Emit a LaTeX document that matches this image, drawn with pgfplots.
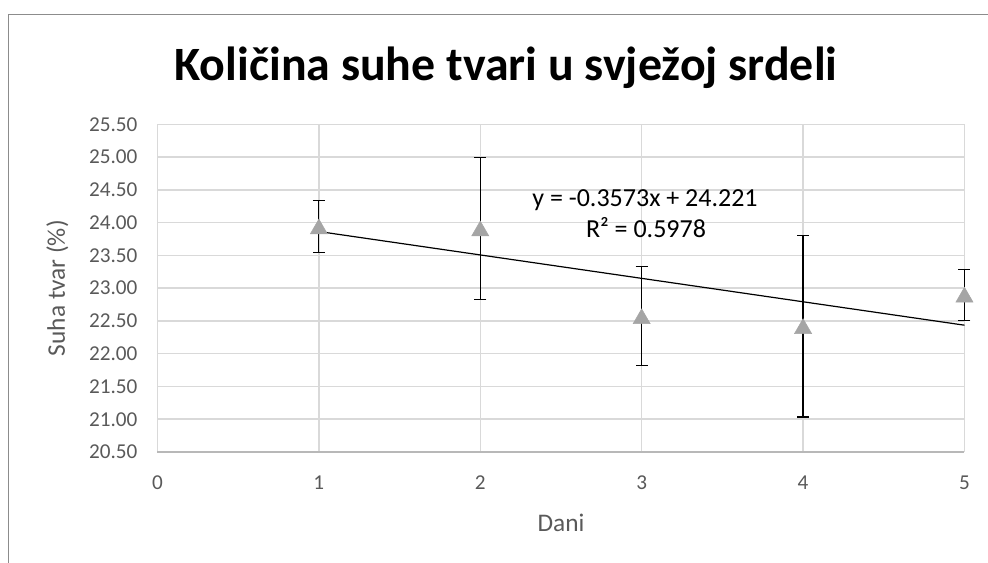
\documentclass[border=0pt]{standalone}
\usepackage{pgfplots}
\pgfplotsset{compat=1.18}
\usepackage{fontspec}
\setmainfont{Carlito}
\definecolor{gridgray}{HTML}{D9D9D9}
\definecolor{txtgray}{HTML}{595959}
\definecolor{framegray}{HTML}{8C8C8C}
\definecolor{markgray}{HTML}{A5A5A5}
\begin{document}
\begin{tikzpicture}
\useasboundingbox (0,0) rectangle (741pt,422.25pt);
\draw[framegray, line width=1.2pt] (6.4pt,0) -- (6.4pt,411.4pt) -- (741pt,411.4pt);
\begin{axis}[
  at={(118.1pt,83.25pt)}, anchor=south west,
  scale only axis, width=605.25pt, height=245.8pt,
  xmin=0, xmax=5, ymin=20.5, ymax=25.5,
  xtick={0,1,2,3,4,5}, ytick={20.5,21,21.5,22,22.5,23,23.5,24,24.5,25,25.5},
  grid=major, grid style={gridgray, line width=1.1pt},
  axis x line*=bottom, axis y line*=left,
  x axis line style={draw=gridgray!85!black, line width=1.3pt},
  y axis line style={draw=none},
  major tick length=0pt, tick style={draw=none},
  /pgf/number format/assume math mode=true,
  yticklabel style={font=\fontsize{15.9}{18}\selectfont, text=txtgray, anchor=east, inner sep=0pt, xshift=-14.8pt,
    /pgf/number format/fixed, /pgf/number format/fixed zerofill, /pgf/number format/precision=2},
  xticklabel style={font=\fontsize{15.9}{18}\selectfont, text=txtgray, anchor=base, inner sep=0pt, yshift=-28.3pt},
  xlabel={Dani}, ylabel={Suha tvar (\%)},
  xlabel style={font=\fontsize{19}{21}\selectfont, text=txtgray, anchor=base, inner sep=0pt, at={(axis description cs:0.5,0)}, yshift=-59.3pt},
  ylabel style={font=\fontsize{19}{21}\selectfont, text=txtgray, anchor=base, inner sep=0pt, at={(axis description cs:-0.1147,0.5)}},
  clip=false,
]
\addplot[black, line width=0.9pt, forget plot] coordinates {(1,23.8637) (5,22.4345)};
\addplot[only marks, mark=triangle*, mark size=7.4pt, mark options={fill=markgray, draw=markgray, yshift=-1.85pt},
  error bars/.cd, y dir=both, y explicit, error mark options={black, rotate=90, mark size=4.5pt, line width=0.9pt},
  error bar style={black, line width=0.9pt}]
  coordinates {
   (1,23.94) +- (0,0.40)
   (2,23.91) +- (0,1.08)
   (3,22.57) +- (0,0.755)
   (4,22.42) +- (0,1.385)
   (5,22.90) +- (0,0.39)
  };
\end{axis}
\node[anchor=base, inner sep=0pt, font=\fontsize{35.9}{40}\selectfont\bfseries] at (379.5pt,361.8pt) {Količina suhe tvari u svježoj srdeli};
\node[anchor=base, inner sep=0pt, font=\fontsize{19.5}{22}\selectfont] at (483.75pt,267pt) {y = -0.3573x + 24.221};
\node[anchor=base, inner sep=0pt, font=\fontsize{19.5}{22}\selectfont] at (484.5pt,243.75pt) {R² = 0.5978};
\end{tikzpicture}
\end{document}
